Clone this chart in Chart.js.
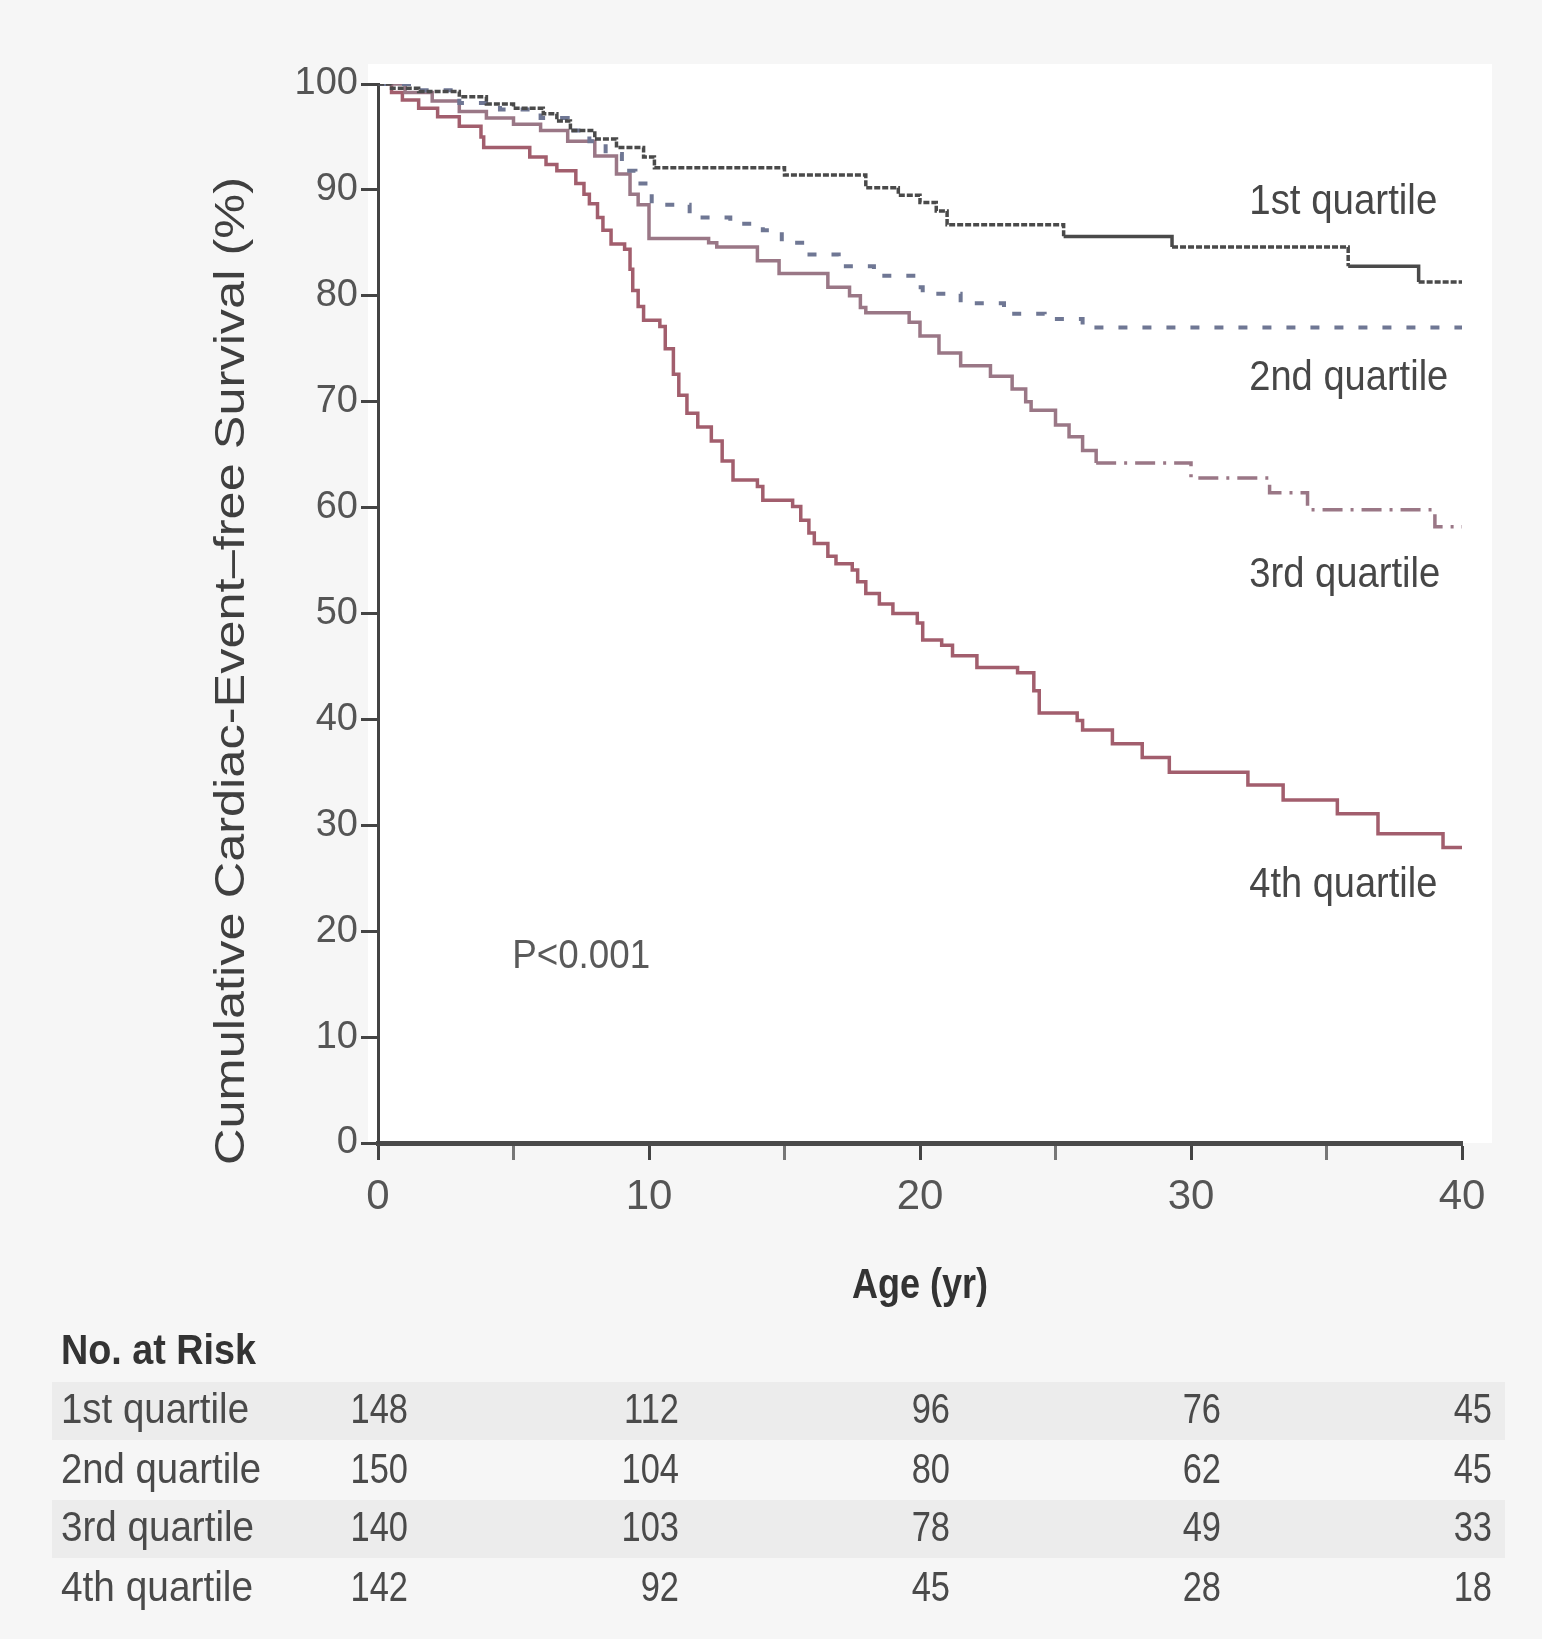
<!DOCTYPE html>
<html>
<head>
<meta charset="utf-8">
<title>Cardiac-event-free survival by quartile</title>
<script src="https://cdn.jsdelivr.net/npm/chart.js@4.4.1/dist/chart.umd.min.js"></script>
<style>
  html, body { margin: 0; padding: 0; background: #f6f6f6; }
  #wrap { width: 1542px; height: 1639px; }
</style>
</head>
<body>
<div id="wrap"><canvas id="survivalChart" width="1542" height="1639"></canvas></div>
<script>
document.addEventListener('DOMContentLoaded', () => {
    "use strict";

    // Kaplan-Meier steps: [age (yr), cumulative event-free survival (%)]
    var quartileNames = ['1st quartile', '2nd quartile', '3rd quartile', '4th quartile'];

    var q1Steps = [[0, 100], [0.5, 99.6], [1.5, 99.3], [3, 98.8], [4, 98.1], [5, 97.7], [6.1, 97.2],
        [6.6, 96.5], [7.1, 95.6], [8, 94.8], [8.8, 94.0], [9.8, 93.1], [10.2, 92.1], [15, 91.4],
        [18, 90.2], [19.2, 89.5], [20, 88.8], [20.6, 88.0], [21, 86.7], [25.3, 85.6], [29.3, 84.6],
        [35.8, 82.8], [38.4, 81.3], [40, 81.3]];

    var q2Steps = [[0, 100], [1.5, 99.4], [3, 98.2], [4.5, 97.6], [6, 96.8], [7, 95.6], [7.8, 94.6],
        [8.4, 93.4], [9, 91.8], [9.5, 90.6], [10.1, 88.6], [11.5, 87.4], [13, 86.8], [14.2, 86.2],
        [14.9, 85.0], [15.8, 83.9], [17, 82.8], [18.3, 81.9], [19.9, 80.8], [20.1, 80.2], [21.5, 79.3],
        [23.1, 78.3], [24.6, 77.8], [26, 77.0], [40, 77.0]];

    var q3Steps = [[0, 100], [1, 99.2], [2, 98.4], [3, 97.4], [4, 96.8], [5, 96.2], [6, 95.6],
        [7, 94.6], [8, 93.2], [8.8, 91.5], [9.3, 89.6], [9.6, 88.6], [10, 85.4], [12.2, 85.0],
        [12.5, 84.6], [14, 83.3], [14.8, 82.1], [16.6, 80.8], [17.4, 80.0], [17.8, 78.9], [18, 78.4],
        [19.6, 77.5], [20, 76.2], [20.7, 74.6], [21.5, 73.4], [22.6, 72.4], [23.4, 71.2], [23.9, 70.0],
        [24.1, 69.2], [25, 67.8], [25.5, 66.7], [26, 65.4], [26.5, 64.2], [30, 62.8], [32.9, 61.4],
        [34.3, 59.8], [39, 58.2], [40, 58.2]];

    var q4Steps = [[0, 100], [0.5, 99.2], [0.9, 98.5], [1.5, 97.7], [2.2, 96.9], [3, 96], [3.8, 95],
        [3.9, 94], [5.6, 93.1], [6.2, 92.4], [6.6, 91.8], [7.3, 90.6], [7.6, 89.6], [7.8, 88.7],
        [8.1, 87.4], [8.3, 86.2], [8.6, 84.9], [9.1, 84.4], [9.3, 82.5], [9.4, 80.5], [9.6, 79],
        [9.8, 77.7], [10.4, 77.1], [10.6, 75.0], [10.9, 72.6], [11.1, 70.6], [11.4, 68.9], [11.8, 67.6],
        [12.3, 66.3], [12.7, 64.4], [13.1, 62.6], [14, 62.0], [14.2, 60.7], [15.3, 60.1], [15.6, 58.8],
        [15.9, 57.6], [16.1, 56.6], [16.6, 55.4], [16.9, 54.7], [17.5, 54.1], [17.7, 53.0], [18, 51.9],
        [18.5, 50.9], [19, 50.0], [19.9, 49.1], [20.1, 47.5], [20.8, 47.0], [21.2, 46.0], [22.1, 44.9],
        [23.6, 44.4], [24.2, 42.7], [24.4, 40.6], [25.8, 39.9], [26, 39.0], [27.1, 37.7], [28.2, 36.4],
        [29.2, 35.0], [32.1, 33.8], [33.4, 32.4], [35.4, 31.1], [36.9, 29.2], [39.3, 27.9], [40, 27.9]];

    // Number at risk table
    var riskAges = [0, 10, 20, 30, 40];
    var riskCounts = [
        [148, 112, 96, 76, 45],
        [150, 104, 80, 62, 45],
        [140, 103, 78, 49, 33],
        [142, 92, 45, 28, 18]
    ];

    var xTickValues = [0, 10, 20, 30, 40];
    var pValueText = 'P<0.001';

    function toPoints(steps) {
        return steps.map(function(s) { return { x: s[0], y: s[1] }; });
    }

    // stretches of the 1st quartile where censor ticks make the line look dotted
    function q1Dotted(x) {
        return !((x >= 25.3 && x < 29.3) || (x >= 35.8 && x < 38.4));
    }

    function drawText(ctx, text, x, y, o) {
        ctx.save();
        ctx.font = o.font;
        ctx.fillStyle = o.color || '#444';
        ctx.textBaseline = 'middle';
        ctx.textAlign = o.align || 'left';
        ctx.translate(x, y);
        if (o.rotate) ctx.rotate(o.rotate);
        var sx = o.squeeze || 1;
        if (o.width) sx = o.width / ctx.measureText(text).width;
        ctx.scale(sx, 1);
        ctx.fillText(text, 0, 0);
        ctx.restore();
    }

    var extras = {
        id: 'extras',
        beforeDraw: function(chart) {
            var ctx = chart.ctx, a = chart.chartArea;
            ctx.save();
            ctx.fillStyle = '#f6f6f6';
            ctx.fillRect(0, 0, chart.width, chart.height);
            ctx.fillStyle = '#ffffff';
            ctx.fillRect(a.left - 10, a.top - 20, a.right - a.left + 40, a.bottom - a.top + 20);
            // shaded rows of the risk table
            ctx.fillStyle = '#ececec';
            ctx.fillRect(52, 1382, 1453, 58);
            ctx.fillRect(52, 1500, 1453, 58);
            ctx.restore();
        },
        afterDraw: function(chart) {
            var ctx = chart.ctx;
            var xs = chart.scales.x, ys = chart.scales.y;
            var label = '42px "Liberation Sans", Arial, sans-serif';
            var bold = 'bold 42px "Liberation Sans", Arial, sans-serif';

            drawText(ctx, 'Cumulative Cardiac-Event\u2013free Survival (%)', 232, 671,
                { font: '42px "Liberation Sans", Arial, sans-serif', width: 988, align: 'center', rotate: -Math.PI / 2, color: '#3f3f3f' });
            drawText(ctx, 'Age (yr)', xs.getPixelForValue(20), 1286,
                { font: bold, width: 136, align: 'center', color: '#333' });

            // curve names at the right-hand end
            var nameAt = [88.8, 72.2, 53.6, 24.3];
            var nameWidth = [188, 199, 191, 188];
            quartileNames.forEach(function(n, i) {
                drawText(ctx, n, xs.getPixelForValue(32.15), ys.getPixelForValue(nameAt[i]),
                    { font: label, width: nameWidth[i], color: '#474747' });
            });

            drawText(ctx, pValueText, xs.getPixelForValue(4.95), ys.getPixelForValue(17.6),
                { font: '40px "Liberation Sans", Arial, sans-serif', width: 138, color: '#5a5a5a' });

            // number at risk
            drawText(ctx, 'No. at Risk', 61, 1352, { font: bold, width: 195, color: '#333' });
            var rowY = [1411, 1471, 1529, 1589];
            var rowWidth = [188, 200, 193, 192];
            riskCounts.forEach(function(row, i) {
                drawText(ctx, quartileNames[i], 61, rowY[i], { font: label, width: rowWidth[i], color: '#4a4a4a' });
                row.forEach(function(n, j) {
                    drawText(ctx, String(n), xs.getPixelForValue(riskAges[j]) + 30, rowY[i],
                        { font: label, squeeze: 0.82, align: 'right', color: '#4a4a4a' });
                });
            });
        }
    };

    var ctxSurvival = document.getElementById('survivalChart').getContext('2d');
    new Chart(ctxSurvival, {
        type: 'line',
        data: {
            datasets: [{
                label: quartileNames[0],
                data: toPoints(q1Steps),
                borderColor: '#4a4a4a',
                borderWidth: 3.5,
                segment: {
                    borderDash: function(c) { return q1Dotted(c.p0.parsed.x) ? [6, 2] : undefined; }
                }
            }, {
                label: quartileNames[1],
                data: toPoints(q2Steps),
                borderColor: '#6f7794',
                borderWidth: 4,
                borderDash: [9, 15]
            }, {
                label: quartileNames[2],
                data: toPoints(q3Steps),
                borderColor: '#9a7786',
                borderWidth: 3.5,
                segment: {
                    borderDash: function(c) { return c.p0.parsed.x >= 26.5 ? [20, 8, 3, 8] : undefined; }
                }
            }, {
                label: quartileNames[3],
                data: toPoints(q4Steps),
                borderColor: '#a25e6d',
                borderWidth: 3.5
            }]
        },
        options: {
            responsive: false,
            animation: false,
            elements: {
                line: { stepped: true, fill: false, tension: 0 },
                point: { radius: 0, hoverRadius: 0 }
            },
            layout: { padding: { top: 84, right: 80, left: 0, bottom: 0 } },
            plugins: {
                legend: { display: false },
                tooltip: { enabled: false }
            },
            scales: {
                x: {
                    type: 'linear',
                    min: 0,
                    max: 40,
                    afterFit: function(s) { s.height = 496; },
                    afterBuildTicks: function(s) {
                        s.ticks = [0, 5, 10, 15, 20, 25, 30, 35, 40].map(function(v) { return { value: v }; });
                    },
                    ticks: {
                        autoSkip: false,
                        maxRotation: 0,
                        padding: 12,
                        color: '#555',
                        font: { family: '"Liberation Sans", Arial, sans-serif', size: 42 },
                        callback: function(v) { return xTickValues.indexOf(v) >= 0 ? String(v) : ''; }
                    },
                    grid: {
                        drawOnChartArea: false,
                        drawTicks: true,
                        tickLength: 17,
                        tickWidth: 3,
                        tickColor: function(c) { return c.tick && c.tick.value % 10 ? '#777' : '#444'; }
                    },
                    border: { display: true, color: '#4a4a4a', width: 5 }
                },
                y: {
                    min: 0,
                    max: 100,
                    afterFit: function(s) { s.width = 378; },
                    ticks: {
                        stepSize: 10,
                        padding: 3,
                        color: '#555',
                        font: { family: '"Liberation Sans", Arial, sans-serif', size: 38 }
                    },
                    grid: {
                        drawOnChartArea: false,
                        drawTicks: true,
                        tickLength: 17,
                        tickWidth: 3,
                        tickColor: '#444'
                    },
                    border: { display: true, color: '#444', width: 3 }
                }
            }
        },
        plugins: [extras]
    });
});
</script>
</body>
</html>
